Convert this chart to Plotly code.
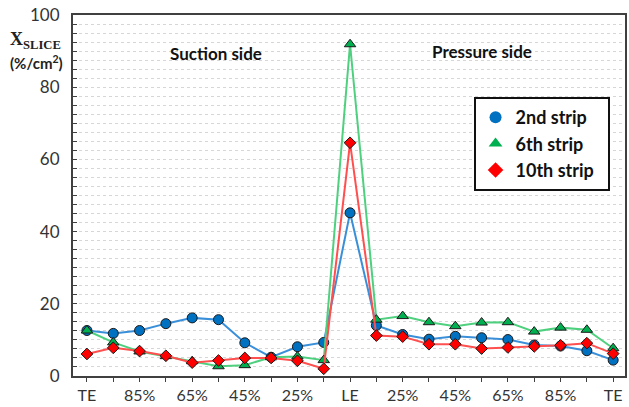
import plotly.graph_objects as go

# Chordwise stations: suction side TE -> LE, then pressure side LE -> TE
stations = list(range(21))
tick_labels = ["TE", "", "85%", "", "65%", "", "45%", "", "25%", "", "LE",
               "", "25%", "", "45%", "", "65%", "", "85%", "", "TE"]

strip2 = [12.6, 11.8, 12.6, 14.5, 16.1, 15.6, 9.2, 5.2, 8.1, 9.3, 45.2,
          14.0, 11.5, 10.2, 11.0, 10.6, 10.1, 8.6, 8.3, 7.0, 4.4]
strip6 = [12.6, 9.3, 6.8, 5.5, 4.1, 2.7, 3.0, 5.2, 5.4, 4.4, 91.9,
          15.6, 16.6, 14.9, 13.8, 14.8, 14.9, 12.3, 13.4, 12.8, 7.7]
strip10 = [6.1, 7.8, 6.9, 5.6, 3.7, 4.3, 5.0, 5.0, 4.2, 2.0, 64.6,
           11.2, 10.9, 8.8, 8.8, 7.6, 7.9, 8.2, 8.5, 9.1, 6.2]

series = [
    ("2nd strip", strip2, "#3a8fd9", "#0070C0", "circle", 10),
    ("6th strip", strip6, "#4fd07f", "#00B050", "triangle-up", 10),
    ("10th strip", strip10, "#ff4f4f", "#FF0000", "diamond", 9),
]

FONT = "Lato"
fig = go.Figure()

for name, vals, line_c, mark_c, sym, size in series:
    fig.add_trace(go.Scatter(
        x=stations, y=vals, mode="lines+markers", showlegend=False,
        line=dict(color=line_c, width=2),
        marker=dict(symbol=sym, size=size, color=mark_c,
                    line=dict(color="#1a1a1a", width=1)),
    ))

# Legend entries show plain markers without outline; trailing
# non-breaking spaces give the legend box some room on the right
for name, vals, line_c, mark_c, sym, size in series:
    fig.add_trace(go.Scatter(
        x=[None], y=[None], mode="markers", name=name + "\u00a0\u00a0",
        marker=dict(symbol=sym, size=17, color=mark_c, line=dict(width=0)),
    ))

PX_L, PX_T, PX_W, PX_H = 73, 15, 554, 361


def px(xp, yp):
    """Pixel position in the page -> paper coordinates."""
    return (xp - PX_L) / PX_W, (PX_T + PX_H - yp) / PX_H


fig.update_layout(
    width=629, height=407,
    margin=dict(l=73, r=2, t=15, b=31),
    paper_bgcolor="white", plot_bgcolor="white",
    font=dict(family=FONT, size=16, color="#333333"),
    showlegend=True,
    legend=dict(
        x=px(475, 97)[0], y=px(475, 97)[1], xanchor="left", yanchor="top",
        bgcolor="white", bordercolor="#111111", borderwidth=2,
        font=dict(family=FONT, size=18, color="#111111", weight="bold"),
        itemsizing="constant", tracegroupgap=0,
    ),
)

fig.update_xaxes(
    range=[-0.53, 20.45],
    tickmode="array", tickvals=stations, ticktext=tick_labels,
    ticks="outside", ticklen=4, tickcolor="#404040",
    showgrid=False, zeroline=False,
    showline=True, linecolor="#404040", linewidth=2, mirror=True,
    tickfont=dict(family=FONT, size=16, color="#333333"),
)

fig.update_yaxes(
    range=[0, 100], dtick=20, tick0=0,
    ticks="inside", ticklen=4, tickcolor="#404040",
    ticklabelstandoff=8,
    showgrid=True, gridcolor="#d6d6d6", griddash="dot", gridwidth=1,
    minor=dict(dtick=2.5, ticks="inside", ticklen=4, tickcolor="#404040",
               showgrid=True, gridcolor="#d6d6d6", griddash="dot"),
    zeroline=False,
    showline=True, linecolor="#404040", linewidth=2, mirror=True,
    tickfont=dict(family=FONT, size=17, color="#333333"),
)

# Axis title placed between the two upper tick labels
tx, ty = px(35, 41)
fig.add_annotation(
    x=tx, y=ty, xref="paper", yref="paper", xanchor="center", yanchor="middle",
    showarrow=False, text="<b>X</b><sub><b>SLICE</b></sub>",
    font=dict(family="Liberation Serif", size=18, color="#222222"),
)
tx, ty = px(36, 63)
fig.add_annotation(
    x=tx, y=ty, xref="paper", yref="paper", xanchor="center", yanchor="middle",
    showarrow=False, text="<b>(%/cm<sup>2</sup>)</b>",
    font=dict(family=FONT, size=15, color="#222222"),
)

# Side labels
for label, (lx, ly) in [("Suction side", (217, 53)), ("Pressure side", (483, 51))]:
    ax, ay = px(lx, ly)
    fig.add_annotation(
        x=ax, y=ay, xref="paper", yref="paper",
        xanchor="center", yanchor="middle", showarrow=False,
        text=f"<b>{label}</b>",
        font=dict(family=FONT, size=17, color="#111111"),
    )

fig.write_html("out.html")
